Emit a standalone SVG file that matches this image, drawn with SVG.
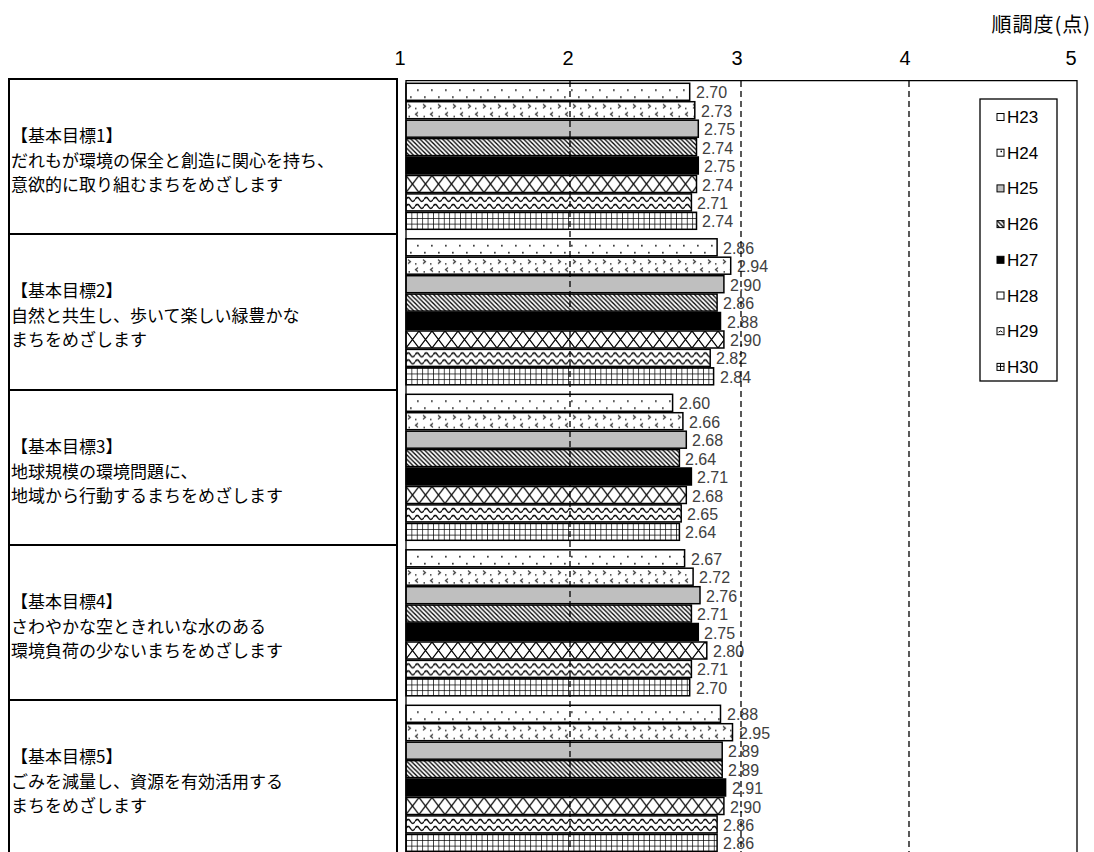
<svg xmlns="http://www.w3.org/2000/svg" width="1094" height="852" viewBox="0 0 1094 852">
<style>
.bar{stroke:#000;stroke-width:1.5}
.val{font-family:"Liberation Sans",Arial,sans-serif;font-size:16px;fill:#404040}
.tick{font-family:"Liberation Sans",Arial,sans-serif;font-size:20px;fill:#000;text-anchor:middle}
.leg{font-family:"Liberation Sans",Arial,sans-serif;font-size:17px;fill:#000}
.jp{font-family:"Noto Sans CJK JP","Noto Sans CJK SC",sans-serif;font-size:17px;fill:#000}
.box{fill:#fff;stroke:#000;stroke-width:2}
.grid{stroke:#000;stroke-width:1.3;stroke-dasharray:6 4;fill:none}
.frame{stroke:#000;stroke-width:1.3;fill:none}
.mk{stroke:#000;stroke-width:1}
</style>
<defs>
<pattern id="p23" width="14" height="17" patternUnits="userSpaceOnUse">
<rect width="14" height="17" fill="#fff"/>
<rect x="11" y="6" width="1.7" height="1.7" fill="#333"/>
<rect x="4" y="13" width="1.7" height="1.7" fill="#333"/>
</pattern>
<pattern id="p24" width="15" height="17" patternUnits="userSpaceOnUse">
<rect width="15" height="17" fill="#fff"/>
<path d="M2,2.5 L4.5,4.5 L2,6.5 M12,10.5 L9.5,12.5 L12,14.5" stroke="#333" stroke-width="1.2" fill="none"/>
<rect x="9" y="6" width="1.5" height="1.5" fill="#333"/>
<rect x="2.5" y="14" width="1.5" height="1.5" fill="#333"/>
</pattern>
<pattern id="p25" width="4" height="4" patternUnits="userSpaceOnUse">
<rect width="4" height="4" fill="#bfbfbf"/>
</pattern>
<pattern id="p26" width="4.5" height="4.5" patternUnits="userSpaceOnUse">
<rect width="4.5" height="4.5" fill="#fff"/>
<path d="M-1,-1 L5.5,5.5 M-1,3.5 L1,5.5 M3.5,-1 L5.5,1" stroke="#000" stroke-width="1.3"/>
</pattern>
<pattern id="p27" width="4" height="4" patternUnits="userSpaceOnUse">
<rect width="4" height="4" fill="#000"/>
</pattern>
<pattern id="p28" width="13" height="17" patternUnits="userSpaceOnUse">
<rect width="13" height="17" fill="#fff"/>
<path d="M0,0 L13,17 M13,0 L0,17" stroke="#000" stroke-width="1.2"/>
</pattern>
<pattern id="p29" width="9" height="17" patternUnits="userSpaceOnUse">
<rect width="9" height="17" fill="#fff"/>
<path d="M0,5.5 Q2.25,1.5 4.5,5.5 T9,5.5 M0,12.5 Q2.25,8.5 4.5,12.5 T9,12.5" stroke="#000" stroke-width="1.4" fill="none"/>
</pattern>
<pattern id="p30" width="5.4" height="5.667" patternUnits="userSpaceOnUse">
<rect width="5.4" height="5.667" fill="#fff"/>
<path d="M0,0 V5.667 M0,0 H5.4" stroke="#000" stroke-width="1.4"/>
</pattern>
</defs>
<rect width="1094" height="852" fill="#fff"/>

<g id="axis-labels">
<text class="tick" x="400" y="65">1</text>
<text class="tick" x="568" y="65">2</text>
<text class="tick" x="737" y="65">3</text>
<text class="tick" x="905" y="65">4</text>
<text class="tick" x="1071" y="65">5</text>
<text class="jp" x="1091" y="31.5" style="font-size:20px;text-anchor:end;letter-spacing:1px">順調度(点)</text>
</g>

<g id="goal1">
<rect class="box" x="9" y="79" width="388" height="155"/>
<text class="jp" x="11" y="142">【基本目標1】</text>
<text class="jp" x="11" y="166.5">だれもが環境の保全と創造に関心を持ち、</text>
<text class="jp" x="11" y="191">意欲的に取り組むまちをめざします</text>
</g>
<g id="goal2">
<rect class="box" x="9" y="234" width="388" height="156"/>
<text class="jp" x="11" y="297">【基本目標2】</text>
<text class="jp" x="11" y="321.5">自然と共生し、歩いて楽しい緑豊かな</text>
<text class="jp" x="11" y="346">まちをめざします</text>
</g>
<g id="goal3">
<rect class="box" x="9" y="390" width="388" height="155"/>
<text class="jp" x="11" y="453">【基本目標3】</text>
<text class="jp" x="11" y="477.5">地球規模の環境問題に、</text>
<text class="jp" x="11" y="502">地域から行動するまちをめざします</text>
</g>
<g id="goal4">
<rect class="box" x="9" y="545" width="388" height="155"/>
<text class="jp" x="11" y="608">【基本目標4】</text>
<text class="jp" x="11" y="632.5">さわやかな空ときれいな水のある</text>
<text class="jp" x="11" y="657">環境負荷の少ないまちをめざします</text>
</g>
<g id="goal5">
<rect class="box" x="9" y="700" width="388" height="170"/>
<text class="jp" x="11" y="763">【基本目標5】</text>
<text class="jp" x="11" y="787.5">ごみを減量し、資源を有効活用する</text>
<text class="jp" x="11" y="812">まちをめざします</text>
</g>

<g id="bars-goal1">
<g transform="translate(406,83.3)"><rect class="bar" width="283.7" height="17" fill="url(#p23)"/></g>
<g transform="translate(406,101.7)"><rect class="bar" width="288.8" height="17" fill="url(#p24)"/></g>
<g transform="translate(406,120.2)"><rect class="bar" width="292.3" height="17" fill="url(#p25)"/></g>
<g transform="translate(406,138.6)"><rect class="bar" width="290.5" height="17" fill="url(#p26)"/></g>
<g transform="translate(406,157.0)"><rect class="bar" width="292.3" height="17" fill="url(#p27)"/></g>
<g transform="translate(406,175.5)"><rect class="bar" width="290.5" height="17" fill="url(#p28)"/></g>
<g transform="translate(406,193.9)"><rect class="bar" width="285.4" height="17" fill="url(#p29)"/></g>
<g transform="translate(406,212.3)"><rect class="bar" width="290.5" height="17" fill="url(#p30)"/></g>
<text class="val" x="696" y="98.3">2.70</text>
<text class="val" x="701" y="116.7">2.73</text>
<text class="val" x="704" y="135.2">2.75</text>
<text class="val" x="702" y="153.6">2.74</text>
<text class="val" x="704" y="172">2.75</text>
<text class="val" x="702" y="190.5">2.74</text>
<text class="val" x="697" y="208.9">2.71</text>
<text class="val" x="702" y="227.3">2.74</text>
</g>

<g id="bars-goal2">
<g transform="translate(406,238.8)"><rect class="bar" width="311.1" height="17" fill="url(#p23)"/></g>
<g transform="translate(406,257.2)"><rect class="bar" width="324.7" height="17" fill="url(#p24)"/></g>
<g transform="translate(406,275.7)"><rect class="bar" width="317.9" height="17" fill="url(#p25)"/></g>
<g transform="translate(406,294.1)"><rect class="bar" width="311.1" height="17" fill="url(#p26)"/></g>
<g transform="translate(406,312.5)"><rect class="bar" width="314.5" height="17" fill="url(#p27)"/></g>
<g transform="translate(406,331.0)"><rect class="bar" width="317.9" height="17" fill="url(#p28)"/></g>
<g transform="translate(406,349.4)"><rect class="bar" width="304.2" height="17" fill="url(#p29)"/></g>
<g transform="translate(406,367.8)"><rect class="bar" width="307.6" height="17" fill="url(#p30)"/></g>
<text class="val" x="723" y="253.8">2.86</text>
<text class="val" x="737" y="272.2">2.94</text>
<text class="val" x="730" y="290.7">2.90</text>
<text class="val" x="723" y="309.1">2.86</text>
<text class="val" x="727" y="327.5">2.88</text>
<text class="val" x="730" y="346">2.90</text>
<text class="val" x="716" y="364.4">2.82</text>
<text class="val" x="720" y="382.8">2.84</text>
</g>

<g id="bars-goal3">
<g transform="translate(406,394.3)"><rect class="bar" width="266.6" height="17" fill="url(#p23)"/></g>
<g transform="translate(406,412.7)"><rect class="bar" width="276.9" height="17" fill="url(#p24)"/></g>
<g transform="translate(406,431.2)"><rect class="bar" width="280.3" height="17" fill="url(#p25)"/></g>
<g transform="translate(406,449.6)"><rect class="bar" width="273.4" height="17" fill="url(#p26)"/></g>
<g transform="translate(406,468.0)"><rect class="bar" width="285.4" height="17" fill="url(#p27)"/></g>
<g transform="translate(406,486.5)"><rect class="bar" width="280.3" height="17" fill="url(#p28)"/></g>
<g transform="translate(406,504.9)"><rect class="bar" width="275.2" height="17" fill="url(#p29)"/></g>
<g transform="translate(406,523.3)"><rect class="bar" width="273.4" height="17" fill="url(#p30)"/></g>
<text class="val" x="679" y="409.3">2.60</text>
<text class="val" x="689" y="427.7">2.66</text>
<text class="val" x="692" y="446.2">2.68</text>
<text class="val" x="685" y="464.6">2.64</text>
<text class="val" x="697" y="483">2.71</text>
<text class="val" x="692" y="501.5">2.68</text>
<text class="val" x="687" y="519.9">2.65</text>
<text class="val" x="685" y="538.3">2.64</text>
</g>

<g id="bars-goal4">
<g transform="translate(406,549.8)"><rect class="bar" width="278.6" height="17" fill="url(#p23)"/></g>
<g transform="translate(406,568.2)"><rect class="bar" width="287.1" height="17" fill="url(#p24)"/></g>
<g transform="translate(406,586.7)"><rect class="bar" width="294.0" height="17" fill="url(#p25)"/></g>
<g transform="translate(406,605.1)"><rect class="bar" width="285.4" height="17" fill="url(#p26)"/></g>
<g transform="translate(406,623.5)"><rect class="bar" width="292.3" height="17" fill="url(#p27)"/></g>
<g transform="translate(406,642.0)"><rect class="bar" width="300.8" height="17" fill="url(#p28)"/></g>
<g transform="translate(406,660.4)"><rect class="bar" width="285.4" height="17" fill="url(#p29)"/></g>
<g transform="translate(406,678.8)"><rect class="bar" width="283.7" height="17" fill="url(#p30)"/></g>
<text class="val" x="691" y="564.8">2.67</text>
<text class="val" x="699" y="583.2">2.72</text>
<text class="val" x="706" y="601.7">2.76</text>
<text class="val" x="697" y="620.1">2.71</text>
<text class="val" x="704" y="638.5">2.75</text>
<text class="val" x="713" y="657">2.80</text>
<text class="val" x="697" y="675.4">2.71</text>
<text class="val" x="696" y="693.8">2.70</text>
</g>

<g id="bars-goal5">
<g transform="translate(406,705.3)"><rect class="bar" width="314.5" height="17" fill="url(#p23)"/></g>
<g transform="translate(406,723.7)"><rect class="bar" width="326.5" height="17" fill="url(#p24)"/></g>
<g transform="translate(406,742.2)"><rect class="bar" width="316.2" height="17" fill="url(#p25)"/></g>
<g transform="translate(406,760.6)"><rect class="bar" width="316.2" height="17" fill="url(#p26)"/></g>
<g transform="translate(406,779.0)"><rect class="bar" width="319.6" height="17" fill="url(#p27)"/></g>
<g transform="translate(406,797.5)"><rect class="bar" width="317.9" height="17" fill="url(#p28)"/></g>
<g transform="translate(406,815.9)"><rect class="bar" width="311.1" height="17" fill="url(#p29)"/></g>
<g transform="translate(406,834.3)"><rect class="bar" width="311.1" height="17" fill="url(#p30)"/></g>
<text class="val" x="727" y="720.3">2.88</text>
<text class="val" x="739" y="738.7">2.95</text>
<text class="val" x="728" y="757.2">2.89</text>
<text class="val" x="728" y="775.6">2.89</text>
<text class="val" x="732" y="794">2.91</text>
<text class="val" x="730" y="812.5">2.90</text>
<text class="val" x="723" y="830.9">2.86</text>
<text class="val" x="723" y="849">2.86</text>
</g>

<g id="connectors">
<line class="grid" x1="570" y1="81" x2="570" y2="852"/>
<line class="grid" x1="741" y1="81" x2="741" y2="852"/>
<line class="grid" x1="909" y1="81" x2="909" y2="852"/>
<path class="frame" d="M406,852 V80.6 H1077 V852"/>
</g>

<g id="legend">
<rect x="980" y="99" width="77" height="282" fill="#fff" stroke="#000" stroke-width="1.3"/>
<g transform="translate(997,113.5)"><rect class="mk" width="7" height="7" fill="#fff"/></g>
<g transform="translate(997,149.2)"><rect class="mk" width="7" height="7" fill="#fff"/><rect x="3.5" y="1.5" width="1.5" height="1.5" fill="#000"/></g>
<g transform="translate(997,184.9)"><rect class="mk" width="7" height="7" fill="#bfbfbf"/></g>
<g transform="translate(997,220.6)"><rect class="mk" width="7" height="7" fill="url(#p26)"/></g>
<g transform="translate(997,256.3)"><rect class="mk" width="7" height="7" fill="#000"/></g>
<g transform="translate(997,292)"><rect class="mk" width="7" height="7" fill="#fff"/></g>
<g transform="translate(997,327.7)"><rect class="mk" width="7" height="7" fill="#fff"/><path d="M1.5,4.5 Q3.5,2 5.5,4.5" stroke="#000" stroke-width="1" fill="none"/></g>
<g transform="translate(997,363.4)"><rect class="mk" width="7" height="7" fill="#fff"/><path d="M3.5,0 V7 M0,3 H7" stroke="#000" stroke-width="1"/></g>
<text class="leg" x="1007" y="123">H23</text>
<text class="leg" x="1007" y="158.7">H24</text>
<text class="leg" x="1007" y="194.4">H25</text>
<text class="leg" x="1007" y="230.1">H26</text>
<text class="leg" x="1007" y="265.8">H27</text>
<text class="leg" x="1007" y="301.5">H28</text>
<text class="leg" x="1007" y="337.2">H29</text>
<text class="leg" x="1007" y="372.9">H30</text>
</g>
</svg>
